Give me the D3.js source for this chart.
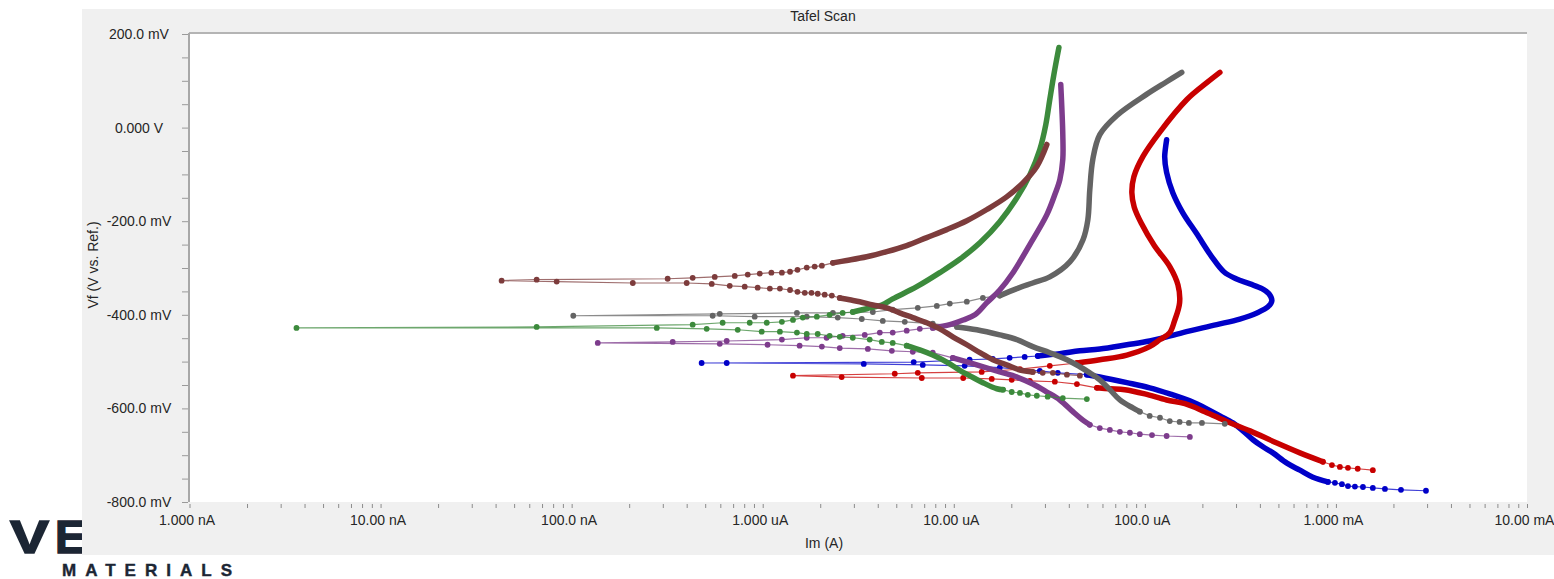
<!DOCTYPE html>
<html>
<head>
<meta charset="utf-8">
<script src="https://cdnjs.cloudflare.com/ajax/libs/d3/7.8.5/d3.min.js"></script>
<style>
  body { margin: 0; background: #fff; }
  svg text { font-family: "Liberation Sans", Arial, sans-serif; }
</style>
</head>
<body>
<div id="chart"></div>
<script>
// current in uA, potential in mV
// each curve: sparse tail (cathodic end), dense cathodic trace, sparse points round Ecorr, dense anodic trace

const blueTail = [[2960,-776],[2190,-774],[1805,-772],[1560,-770],[1385,-768],[1257,-767],[1156,-766],[1075,-762],[988,-759],[908,-757]];
const blueCathodic = [[908,-757],[758,-747],[648,-732],[554,-717],[468,-695],[415,-682],[368,-667],[326,-648],[289,-631],[247,-616],[211,-601],[172,-584],[135,-569],[106,-556],[80.5,-545],[58.1,-533],[49.7,-528]];
const blueEcorr = [[49.7,-528],[35.0,-524],[28.2,-520],[17.4,-513],[11.4,-509],[6.88,-507],[3.38,-505],[0.648,-503],[0.479,-503],[6.17,-501],[12.1,-496],[16.0,-494],[19.6,-492],[23.5,-490],[27.5,-488]];
const blueAnodic = [[27.5,-488],[35.9,-483],[45.7,-477],[58.1,-473],[80.5,-464],[106,-456],[158,-438],[238,-421],[314,-409],[386,-396],[441,-383],[462,-370],[446,-355],[410,-344],[355,-334],[300,-323],[259,-308],[224,-276],[187,-227],[158,-182],[140,-139],[130,-96],[127,-62],[130,-26]];

const redTail = [[1560,-732],[1300,-729],[1156,-727],[1049,-725],[953,-721],[855,-714]];
const redCathodic = [[855,-714],[648,-695],[491,-674],[355,-648],[272,-629],[206,-607],[162,-590],[130,-582],[100,-569],[78.6,-560],[65.6,-558],[56.1,-556]];
const redEcorr = [[56.1,-556],[44.1,-548],[33.8,-543],[25.0,-541],[20.1,-539],[15.8,-537],[11.2,-535],[6.80,-535],[2.59,-533],[1.44,-530],[4.91,-526],[6.48,-524],[14.0,-522],[22.2,-516],[31.8,-509],[44.1,-503]];
const redAnodic = [[44.1,-503],[58.1,-496],[80.5,-486],[106,-468],[120,-453],[135,-438],[143,-413],[152,-374],[149,-336],[135,-297],[112,-252],[96,-205],[88,-170],[85.5,-139],[87.6,-105],[97.6,-62],[120,-9],[166,60],[211,96],[247,118]];

const grayTail = [[262,-633],[199,-631],[170,-631],[152,-629],[135,-627],[120,-620],[106,-616],[94.1,-607]];
const grayCathodic = [[94.1,-607],[86.5,-599],[74.0,-582],[65.6,-560],[58.1,-539],[51.5,-524],[45.7,-511],[39.1,-496],[31.8,-481],[25.9,-468],[21.4,-453],[17.4,-443],[13.2,-432],[10.4,-426]];
const grayEcorr = [[10.4,-426],[7.76,-419],[5.54,-415],[4.25,-413],[3.30,-409],[2.47,-406],[1.70,-404],[0.908,-404],[0.547,-402],[0.102,-402],[0.596,-398],[1.51,-396],[2.33,-396],[3.77,-394],[4.79,-389],[6.48,-385],[8.15,-381],[9.53,-376],[11.7,-372],[14.2,-364],[17.4,-359]];
const grayAnodic = [[17.4,-359],[21.4,-344],[25.9,-332],[31.8,-319],[40.5,-287],[47.4,-240],[50.3,-197],[51.5,-133],[53.4,-68],[58.1,-15],[71.4,26],[102,71],[130,98],[156,118]];

const purpleTail = [[172,-661],[130,-659],[109,-657],[94.1,-655],[83.5,-652],[74.0,-650],[65.6,-646],[58.1,-642],[51.5,-635]];
const purpleCathodic = [[51.5,-635],[47.4,-625],[42.0,-607],[35.9,-582],[30.7,-565],[25.9,-548],[21.4,-533],[17.4,-522],[13.2,-507],[9.88,-492]];
const purpleEcorr = [[9.88,-492],[7.76,-481],[6.10,-479],[4.74,-477],[3.55,-473],[2.53,-471],[2.04,-468],[1.56,-466],[1.06,-464],[0.596,-462],[0.137,-460],[0.338,-458],[0.648,-456],[1.26,-453],[1.70,-449],[2.16,-449],[2.62,-445],[3.42,-443],[4.10,-438],[4.79,-438],[5.67,-434],[6.64,-430],[7.76,-428]];
const purpleAnodic = [[7.76,-428],[9.53,-421],[11.2,-411],[12.9,-400],[14.9,-374],[17.4,-347],[20.4,-310],[25.0,-250],[30.7,-186],[33.8,-143],[35.9,-111],[37.2,-68],[37.2,-15],[36.8,39],[36.3,92]];

const greenTail = [[49.7,-580],[37.2,-578],[31.0,-575],[27.2,-573],[24.4,-571],[22.2,-567],[20.1,-565],[18.1,-560]];
const greenCathodic = [[18.1,-560],[16.8,-558],[14.2,-545],[12.1,-530],[10.7,-518],[9.19,-501],[7.76,-486],[6.64,-475],[5.67,-466]];
const greenEcorr = [[5.67,-466],[4.79,-460],[4.20,-458],[3.63,-453],[2.96,-449],[2.53,-447],[2.24,-445],[1.94,-441],[1.70,-441],[1.51,-438],[1.23,-436],[0.988,-436],[0.740,-432],[0.509,-430],[0.279,-428],[0.00363,-428],[0.0656,-426],[0.430,-421],[0.617,-417],[0.855,-417],[1.05,-417],[1.26,-415],[1.44,-411],[1.62,-406],[1.92,-404],[2.24,-400],[2.62,-396],[2.96,-394]];
const greenAnodic = [[2.96,-394],[3.50,-387],[4.20,-379],[4.79,-366],[6.40,-340],[8.45,-310],[10.7,-282],[13.7,-246],[17.4,-201],[21.4,-150],[25.0,-101],[28.2,-47],[30.3,6],[31.8,60],[33.4,113],[35.5,171]];

const brownTail = [[45.7,-530],[39.1,-528],[33.0,-524],[29.2,-524],[25.9,-522]];
const brownCathodic = [[25.9,-522],[22.2,-518],[18.9,-507],[16.0,-496],[13.7,-481],[11.7,-464],[9.88,-447],[8.45,-430],[7.22,-417],[6.10,-406],[5.21,-396],[4.46,-385],[3.77,-379],[3.22,-372],[2.85,-368],[2.53,-364]];
const brownEcorr = [[2.53,-364],[2.30,-359],[2.11,-357],[1.94,-355],[1.80,-353],[1.66,-353],[1.52,-351],[1.39,-347],[1.23,-344],[1.09,-344],[0.941,-342],[0.805,-340],[0.672,-338],[0.541,-334],[0.400,-332],[0.209,-332],[0.0835,-329],[0.0430,-327],[0.0656,-325],[0.318,-323],[0.430,-321],[0.561,-319],[0.714,-317],[0.835,-314],[0.965,-312],[1.11,-310],[1.26,-310],[1.39,-308],[1.52,-304],[1.70,-299],[1.87,-297],[2.04,-295],[2.33,-289]];
const brownAnodic = [[2.33,-289],[2.75,-284],[3.50,-276],[4.46,-265],[5.67,-252],[7.22,-235],[9.19,-218],[11.7,-199],[14.9,-175],[18.9,-148],[23.0,-118],[27.2,-83],[30.7,-36]];

// axis ticks
const currentLabels = [0.001, 0.01, 0.1, 1, 10, 100, 1000, 10000];
const potentialTicks = d3.range(-800, 201, 50);
const potentialLabels = [-800, -600, -400, -200, 0, 200];

// drawing order: first drawn sits at the bottom
const curves = [
    { colour: "#0000c8", tail: blueTail, cathodic: blueCathodic, ecorr: blueEcorr, anodic: blueAnodic },
    { colour: "#c80000", tail: redTail, cathodic: redCathodic, ecorr: redEcorr, anodic: redAnodic },
    { colour: "#646464", tail: grayTail, cathodic: grayCathodic, ecorr: grayEcorr, anodic: grayAnodic },
    { colour: "#7d3c8c", tail: purpleTail, cathodic: purpleCathodic, ecorr: purpleEcorr, anodic: purpleAnodic },
    { colour: "#3c8a3c", tail: greenTail, cathodic: greenCathodic, ecorr: greenEcorr, anodic: greenAnodic },
    { colour: "#7d3c3c", tail: brownTail, cathodic: brownCathodic, ecorr: brownEcorr, anodic: brownAnodic }
];

const W = 1554, H = 579;
const plot = { left: 189, top: 33, right: 1527, bottom: 502 };

const svg = d3.select("#chart").append("svg")
    .attr("width", W)
    .attr("height", H);

// logo (partly hidden by the chart panel)
const navy = "#1c2634";
svg.append("text")
    .attr("x", 10).attr("y", 553)
    .attr("font-family", "Lato, 'DejaVu Sans', sans-serif")
    .attr("font-weight", 900)
    .attr("font-size", 46)
    .attr("textLength", 39)
    .attr("lengthAdjust", "spacingAndGlyphs")
    .attr("fill", navy)
    .attr("stroke", navy).attr("stroke-width", 1.5)
    .text("V");
svg.append("text")
    .attr("x", 55).attr("y", 553)
    .attr("font-family", "Lato, 'DejaVu Sans', sans-serif")
    .attr("font-weight", 900)
    .attr("font-size", 46)
    .attr("fill", navy)
    .attr("stroke", navy).attr("stroke-width", 1.5)
    .text("E");

// panel
svg.append("rect")
    .attr("x", 82).attr("y", 9)
    .attr("width", W - 82).attr("height", 546)
    .attr("fill", "#f0f0f0");

svg.append("text")
    .attr("x", 62).attr("y", 576)
    .attr("font-family", "'DejaVu Sans', Lato, sans-serif")
    .attr("font-weight", 700)
    .attr("font-size", 17)
    .attr("textLength", 170)
    .attr("lengthAdjust", "spacing")
    .attr("fill", navy)
    .attr("stroke", navy).attr("stroke-width", 0.4)
    .text("MATERIALS");

// plot area
svg.append("rect")
    .attr("x", plot.left).attr("y", plot.top)
    .attr("width", plot.right - plot.left).attr("height", plot.bottom - plot.top)
    .attr("fill", "#fff");

svg.append("line")
    .attr("x1", plot.left).attr("x2", plot.right)
    .attr("y1", plot.top).attr("y2", plot.top)
    .attr("stroke", "#b4b4b4").attr("stroke-width", 2);
svg.append("line")
    .attr("x1", plot.left).attr("x2", plot.left)
    .attr("y1", plot.top).attr("y2", plot.bottom)
    .attr("stroke", "#a8a8a8").attr("stroke-width", 2);

const x = d3.scaleLog()
    .domain([0.001, 10000])
    .range([plot.left + 0.5, plot.right]);

const y = d3.scaleLinear()
    .domain([-800, 200])
    .range([plot.bottom, plot.top + 1]);

// tick label formats
const isDecade = d => Math.abs(Math.log10(d) - Math.round(Math.log10(d))) < 1e-6;
const fmtNum = n => n < 9.999 ? n.toFixed(3) : n < 99.99 ? n.toFixed(2) : n.toFixed(1);
const fmtCurrent = v => {
    if (v < 0.9999) return fmtNum(v * 1000) + " nA";
    if (v < 999.9) return fmtNum(v) + " uA";
    return fmtNum(v / 1000) + " mA";
};
const fmtPotential = v => v === 0 ? "0.000 V" : v.toFixed(1) + " mV";

// x axis
const xAxis = svg.append("g")
    .attr("transform", "translate(0," + (plot.bottom + 2) + ")")
    .call(d3.axisBottom(x)
        .tickValues(x.ticks())
        .tickSize(4)
        .tickPadding(7)
        .tickFormat(d => isDecade(d) ? fmtCurrent(currentLabels.find(c => Math.abs(c - d) / c < 1e-6)) : ""));
xAxis.select(".domain").remove();
xAxis.selectAll(".tick line").attr("stroke", "#8c8c8c");
xAxis.selectAll(".tick text")
    .attr("x", -3)
    .attr("font-size", 14)
    .attr("fill", "#262626");

// y axis
const yAxis = svg.append("g")
    .attr("transform", "translate(" + (plot.left - 1) + ",0)")
    .call(d3.axisLeft(y)
        .tickValues(potentialTicks)
        .tickSize(6)
        .tickFormat(d => potentialLabels.includes(d) ? fmtPotential(d) : ""));
yAxis.select(".domain").remove();
yAxis.selectAll(".tick line").attr("stroke", "#9a9a9a");
yAxis.selectAll(".tick text")
    .attr("x", -49)
    .attr("text-anchor", "middle")
    .attr("font-size", 14)
    .attr("fill", "#262626");

// titles
svg.append("text")
    .attr("x", 823).attr("y", 21)
    .attr("text-anchor", "middle")
    .attr("font-size", 14)
    .attr("fill", "#262626")
    .text("Tafel Scan");

svg.append("text")
    .attr("x", 824).attr("y", 548)
    .attr("text-anchor", "middle")
    .attr("font-size", 14)
    .attr("fill", "#262626")
    .text("Im (A)");

svg.append("text")
    .attr("transform", "translate(98,265) rotate(-90)")
    .attr("text-anchor", "middle")
    .attr("font-size", 14)
    .attr("fill", "#262626")
    .text("Vf (V vs. Ref.)");

// curves
svg.append("clipPath").attr("id", "clip")
    .append("rect")
    .attr("x", plot.left).attr("y", plot.top)
    .attr("width", plot.right - plot.left).attr("height", plot.bottom - plot.top);

const g = svg.append("g").attr("clip-path", "url(#clip)");

const thinLine = d3.line()
    .x(d => x(d[0]))
    .y(d => y(d[1]));

const denseLine = d3.line()
    .x(d => x(d[0]))
    .y(d => y(d[1]))
    .curve(d3.curveCatmullRom.alpha(0.5));

curves.forEach(c => {
    const cg = g.append("g");

    // sparse runs: thin line joining individual points
    [c.tail, c.ecorr].forEach(run => {
        cg.append("path")
            .attr("d", thinLine(run))
            .attr("fill", "none")
            .attr("stroke", c.colour)
            .attr("stroke-opacity", 0.75)
            .attr("stroke-width", 1.2);
        cg.selectAll(null)
            .data(run)
            .enter()
            .append("circle")
            .attr("cx", d => x(d[0]))
            .attr("cy", d => y(d[1]))
            .attr("r", 2.9)
            .attr("fill", c.colour);
    });

    // dense runs: the points overlap into a solid trace
    [c.cathodic, c.anodic].forEach(run => {
        cg.append("path")
            .attr("d", denseLine(run))
            .attr("fill", "none")
            .attr("stroke", c.colour)
            .attr("stroke-width", 5.5)
            .attr("stroke-linecap", "round")
            .attr("stroke-linejoin", "round");
    });
});
</script>
</body>
</html>
